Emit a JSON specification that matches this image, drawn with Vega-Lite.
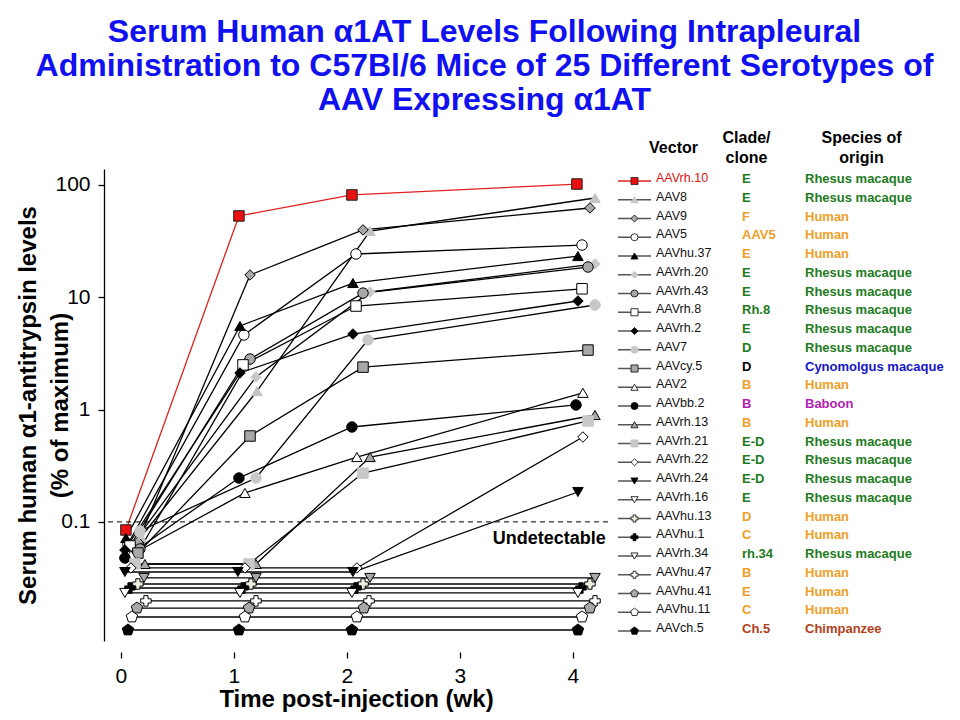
{
  "$schema": "https://vega.github.io/schema/vega-lite/v6.json",
  "config": {
    "font": "Liberation Sans",
    "view": {"stroke": null},
    "axis": {"labelColor": "black", "titleColor": "black", "tickColor": "black", "domainColor": "black", "grid": false}
  },
  "padding": {"left": 15, "top": 16, "right": 5, "bottom": 5},
  "title": {
    "text": ["Serum Human α1AT Levels Following Intrapleural", "Administration to C57Bl/6 Mice of 25 Different Serotypes of", "AAV Expressing α1AT"],
    "fontSize": 32, "fontWeight": "bold", "color": "#1010f0", "lineHeight": 34, "anchor": "middle", "offset": 12
  },
  "datasets": {
    "series": [
      {"vector": "AAVrh.10", "wk": 0.044, "val": 0.0847}, {"vector": "AAVrh.10", "wk": 1.044, "val": 53.0}, {"vector": "AAVrh.10", "wk": 2.044, "val": 81.5}, {"vector": "AAVrh.10", "wk": 4.035, "val": 102},
      {"vector": "AAV8", "wk": 0.177, "val": 0.0734}, {"vector": "AAV8", "wk": 1.204, "val": 1.46}, {"vector": "AAV8", "wk": 2.204, "val": 38.9}, {"vector": "AAV8", "wk": 4.195, "val": 76.6},
      {"vector": "AAV9", "wk": 0.150, "val": 0.0662}, {"vector": "AAV9", "wk": 1.142, "val": 15.8}, {"vector": "AAV9", "wk": 2.142, "val": 39.8}, {"vector": "AAV9", "wk": 4.150, "val": 62.4},
      {"vector": "AAV5", "wk": 0.062, "val": 0.0635}, {"vector": "AAV5", "wk": 1.088, "val": 4.62}, {"vector": "AAV5", "wk": 2.080, "val": 24.3}, {"vector": "AAV5", "wk": 4.080, "val": 29.2},
      {"vector": "AAVhu.37", "wk": 0.044, "val": 0.0719}, {"vector": "AAVhu.37", "wk": 1.053, "val": 5.55}, {"vector": "AAVhu.37", "wk": 2.053, "val": 13.4}, {"vector": "AAVhu.37", "wk": 4.044, "val": 23.3},
      {"vector": "AAVrh.20", "wk": 0.168, "val": 0.078}, {"vector": "AAVrh.20", "wk": 1.195, "val": 1.95}, {"vector": "AAVrh.20", "wk": 2.204, "val": 11.15}, {"vector": "AAVrh.20", "wk": 4.195, "val": 19.8},
      {"vector": "AAVrh.43", "wk": 0.168, "val": 0.0574}, {"vector": "AAVrh.43", "wk": 1.142, "val": 2.82}, {"vector": "AAVrh.43", "wk": 2.142, "val": 10.9}, {"vector": "AAVrh.43", "wk": 4.133, "val": 18.6},
      {"vector": "AAVrh.8", "wk": 0.080, "val": 0.061}, {"vector": "AAVrh.8", "wk": 1.080, "val": 2.50}, {"vector": "AAVrh.8", "wk": 2.080, "val": 8.36}, {"vector": "AAVrh.8", "wk": 4.080, "val": 11.9},
      {"vector": "AAVrh.2", "wk": 0.035, "val": 0.0562}, {"vector": "AAVrh.2", "wk": 1.053, "val": 2.12}, {"vector": "AAVrh.2", "wk": 2.053, "val": 4.71}, {"vector": "AAVrh.2", "wk": 4.044, "val": 9.27},
      {"vector": "AAV7", "wk": 0.168, "val": 0.083}, {"vector": "AAV7", "wk": 1.195, "val": 0.246}, {"vector": "AAV7", "wk": 2.186, "val": 4.17}, {"vector": "AAV7", "wk": 4.195, "val": 8.54},
      {"vector": "AAVcy.5", "wk": 0.150, "val": 0.0528}, {"vector": "AAVcy.5", "wk": 1.142, "val": 0.582}, {"vector": "AAVcy.5", "wk": 2.142, "val": 2.39}, {"vector": "AAVcy.5", "wk": 4.133, "val": 3.39},
      {"vector": "AAV2", "wk": 0.088, "val": 0.0507}, {"vector": "AAV2", "wk": 1.097, "val": 0.181}, {"vector": "AAV2", "wk": 2.088, "val": 0.378}, {"vector": "AAV2", "wk": 4.088, "val": 1.41},
      {"vector": "AAVbb.2", "wk": 0.035, "val": 0.0477}, {"vector": "AAVbb.2", "wk": 1.044, "val": 0.246}, {"vector": "AAVbb.2", "wk": 2.044, "val": 0.700}, {"vector": "AAVbb.2", "wk": 4.027, "val": 1.10},
      {"vector": "AAVrh.13", "wk": 0.212, "val": 0.0422}, {"vector": "AAVrh.13", "wk": 1.195, "val": 0.0422}, {"vector": "AAVrh.13", "wk": 2.204, "val": 0.378}, {"vector": "AAVrh.13", "wk": 4.195, "val": 0.895},
      {"vector": "AAVrh.21", "wk": 0.124, "val": 0.0422}, {"vector": "AAVrh.21", "wk": 1.133, "val": 0.0422}, {"vector": "AAVrh.21", "wk": 2.142, "val": 0.272}, {"vector": "AAVrh.21", "wk": 4.133, "val": 0.792},
      {"vector": "AAVrh.22", "wk": 0.088, "val": 0.0389}, {"vector": "AAVrh.22", "wk": 1.097, "val": 0.0389}, {"vector": "AAVrh.22", "wk": 2.088, "val": 0.0389}, {"vector": "AAVrh.22", "wk": 4.088, "val": 0.570},
      {"vector": "AAVrh.24", "wk": 0.035, "val": 0.0358}, {"vector": "AAVrh.24", "wk": 1.035, "val": 0.0358}, {"vector": "AAVrh.24", "wk": 2.053, "val": 0.0358}, {"vector": "AAVrh.24", "wk": 4.044, "val": 0.1846},
      {"vector": "AAVrh.16", "wk": 0.204, "val": 0.0317}, {"vector": "AAVrh.16", "wk": 1.195, "val": 0.0317}, {"vector": "AAVrh.16", "wk": 2.204, "val": 0.0317}, {"vector": "AAVrh.16", "wk": 4.195, "val": 0.0317},
      {"vector": "AAVhu.13", "wk": 0.150, "val": 0.028}, {"vector": "AAVhu.13", "wk": 1.150, "val": 0.028}, {"vector": "AAVhu.13", "wk": 2.142, "val": 0.028}, {"vector": "AAVhu.13", "wk": 4.150, "val": 0.028},
      {"vector": "AAVhu.1", "wk": 0.080, "val": 0.0258}, {"vector": "AAVhu.1", "wk": 1.080, "val": 0.0258}, {"vector": "AAVhu.1", "wk": 2.080, "val": 0.0258}, {"vector": "AAVhu.1", "wk": 4.071, "val": 0.0258},
      {"vector": "AAVrh.34", "wk": 0.035, "val": 0.0233}, {"vector": "AAVrh.34", "wk": 1.053, "val": 0.0233}, {"vector": "AAVrh.34", "wk": 2.044, "val": 0.0233}, {"vector": "AAVrh.34", "wk": 4.044, "val": 0.0233},
      {"vector": "AAVhu.47", "wk": 0.221, "val": 0.0198}, {"vector": "AAVhu.47", "wk": 1.195, "val": 0.0198}, {"vector": "AAVhu.47", "wk": 2.195, "val": 0.0198}, {"vector": "AAVhu.47", "wk": 4.195, "val": 0.0198},
      {"vector": "AAVhu.41", "wk": 0.142, "val": 0.0171}, {"vector": "AAVhu.41", "wk": 1.133, "val": 0.0171}, {"vector": "AAVhu.41", "wk": 2.150, "val": 0.0171}, {"vector": "AAVhu.41", "wk": 4.150, "val": 0.0171},
      {"vector": "AAVhu.11", "wk": 0.097, "val": 0.01423}, {"vector": "AAVhu.11", "wk": 1.097, "val": 0.01423}, {"vector": "AAVhu.11", "wk": 2.088, "val": 0.01423}, {"vector": "AAVhu.11", "wk": 4.080, "val": 0.01423},
      {"vector": "AAVch.5", "wk": 0.062, "val": 0.0109}, {"vector": "AAVch.5", "wk": 1.044, "val": 0.0109}, {"vector": "AAVch.5", "wk": 2.044, "val": 0.0109}, {"vector": "AAVch.5", "wk": 4.044, "val": 0.0109}
    ],
    "info": [
      {"vector": "AAVrh.10", "clade": "E", "origin": "Rhesus macaque"},
      {"vector": "AAV8", "clade": "E", "origin": "Rhesus macaque"},
      {"vector": "AAV9", "clade": "F", "origin": "Human"},
      {"vector": "AAV5", "clade": "AAV5", "origin": "Human"},
      {"vector": "AAVhu.37", "clade": "E", "origin": "Human"},
      {"vector": "AAVrh.20", "clade": "E", "origin": "Rhesus macaque"},
      {"vector": "AAVrh.43", "clade": "E", "origin": "Rhesus macaque"},
      {"vector": "AAVrh.8", "clade": "Rh.8", "origin": "Rhesus macaque"},
      {"vector": "AAVrh.2", "clade": "E", "origin": "Rhesus macaque"},
      {"vector": "AAV7", "clade": "D", "origin": "Rhesus macaque"},
      {"vector": "AAVcy.5", "clade": "D", "origin": "Cynomolgus macaque"},
      {"vector": "AAV2", "clade": "B", "origin": "Human"},
      {"vector": "AAVbb.2", "clade": "B", "origin": "Baboon"},
      {"vector": "AAVrh.13", "clade": "B", "origin": "Human"},
      {"vector": "AAVrh.21", "clade": "E-D", "origin": "Rhesus macaque"},
      {"vector": "AAVrh.22", "clade": "E-D", "origin": "Rhesus macaque"},
      {"vector": "AAVrh.24", "clade": "E-D", "origin": "Rhesus macaque"},
      {"vector": "AAVrh.16", "clade": "E", "origin": "Rhesus macaque"},
      {"vector": "AAVhu.13", "clade": "D", "origin": "Human"},
      {"vector": "AAVhu.1", "clade": "C", "origin": "Human"},
      {"vector": "AAVrh.34", "clade": "rh.34", "origin": "Rhesus macaque"},
      {"vector": "AAVhu.47", "clade": "B", "origin": "Human"},
      {"vector": "AAVhu.41", "clade": "E", "origin": "Human"},
      {"vector": "AAVhu.11", "clade": "C", "origin": "Human"},
      {"vector": "AAVch.5", "clade": "Ch.5", "origin": "Chimpanzee"}
    ],
    "threshold": [{"label": "Undetectable", "level": 0.1}]
  },
  "spacing": 5,
  "bounds": "flush",
  "resolve": {"scale": {"shape": "independent", "fill": "independent", "stroke": "independent", "color": "independent"}},
  "hconcat": [
    {
      "width": 504,
      "height": 472,
      "data": {"name": "series"},
      "encoding": {
        "y": {
          "field": "val", "type": "quantitative",
          "scale": {"type": "log", "domain": [0.0087, 138.8], "nice": false},
          "axis": {
            "values": [0.1, 1, 10, 100], "format": "~g", "labelFontSize": 21, "labelPadding": 8,
            "tickSize": 6, "tickWidth": 1.3, "domainWidth": 1.3,
            "title": ["Serum human α1-antitrypsin levels", "(% of maximum)"],
            "titleFontSize": 24, "titleFontWeight": "bold", "titleX": -64, "titleLineHeight": 32, "titleBaseline": "bottom"
          }
        }
      },
      "layer": [
        {
          "data": {"values": [{}]},
          "mark": {"type": "rule", "color": "black", "strokeWidth": 1.3},
          "encoding": {"y": {"datum": 0.0087}}
        },
        {
          "mark": {"type": "line", "strokeWidth": 1.3},
          "encoding": {
            "x": {
              "field": "wk", "type": "quantitative",
              "scale": {"domain": [-0.15, 4.31], "nice": false, "zero": false},
              "axis": {
                "orient": "bottom", "offset": 11, "domain": false, "values": [0, 1, 2, 3, 4], "format": "d",
                "tickSize": 6, "tickWidth": 1.3, "labelFontSize": 21, "labelPadding": 7,
                "title": "Time post-injection (wk)", "titleFontSize": 24, "titleFontWeight": "bold", "titlePadding": 1
              }
            },
            "detail": {"field": "vector"},
            "color": {
              "field": "vector", "type": "nominal", "legend": null,
              "scale": {
                "domain": ["AAVrh.10","AAV8","AAV9","AAV5","AAVhu.37","AAVrh.20","AAVrh.43","AAVrh.8","AAVrh.2","AAV7","AAVcy.5","AAV2","AAVbb.2","AAVrh.13","AAVrh.21","AAVrh.22","AAVrh.24","AAVrh.16","AAVhu.13","AAVhu.1","AAVrh.34","AAVhu.47","AAVhu.41","AAVhu.11","AAVch.5"],
                "range": ["#e02020","#000000","#000000","#000000","#000000","#000000","#000000","#000000","#000000","#000000","#000000","#000000","#000000","#000000","#000000","#000000","#000000","#000000","#000000","#000000","#000000","#000000","#000000","#000000","#000000"]
              }
            }
          }
        },
        {
          "mark": {"type": "point", "filled": true, "opacity": 1, "strokeWidth": 1, "size": 110},
          "encoding": {
            "x": {"field": "wk", "type": "quantitative"},
            "shape": {
              "field": "vector", "type": "nominal", "legend": null,
              "scale": {
                "domain": ["AAVrh.10","AAV8","AAV9","AAV5","AAVhu.37","AAVrh.20","AAVrh.43","AAVrh.8","AAVrh.2","AAV7","AAVcy.5","AAV2","AAVbb.2","AAVrh.13","AAVrh.21","AAVrh.22","AAVrh.24","AAVrh.16","AAVhu.13","AAVhu.1","AAVrh.34","AAVhu.47","AAVhu.41","AAVhu.11","AAVch.5"],
                "range": ["square","triangle-up","diamond","circle","triangle-up","diamond","circle","square","diamond","circle","square","triangle-up","circle","triangle-up","square","diamond","triangle-down","triangle-down","cross","cross","triangle-down","cross","M0,-1.15L1.094,-0.355L0.676,0.93L-0.676,0.93L-1.094,-0.355Z","M0,-1.15L1.094,-0.355L0.676,0.93L-0.676,0.93L-1.094,-0.355Z","M0,-1.15L1.094,-0.355L0.676,0.93L-0.676,0.93L-1.094,-0.355Z"]
              }
            },
            "fill": {
              "field": "vector", "type": "nominal", "legend": null,
              "scale": {
                "domain": ["AAVrh.10","AAV8","AAV9","AAV5","AAVhu.37","AAVrh.20","AAVrh.43","AAVrh.8","AAVrh.2","AAV7","AAVcy.5","AAV2","AAVbb.2","AAVrh.13","AAVrh.21","AAVrh.22","AAVrh.24","AAVrh.16","AAVhu.13","AAVhu.1","AAVrh.34","AAVhu.47","AAVhu.41","AAVhu.11","AAVch.5"],
                "range": ["#e81010","#c4c4c4","#a8a8a8","#ffffff","#000000","#c8c8c8","#a8a8a8","#ffffff","#000000","#c8c8c8","#a8a8a8","#ffffff","#000000","#a8a8a8","#c8c8c8","#ffffff","#000000","#a8a8a8","#eeeede","#000000","#ffffff","#ffffff","#a8a8a8","#ffffff","#000000"]
              }
            },
            "stroke": {
              "field": "vector", "type": "nominal", "legend": null,
              "scale": {
                "domain": ["AAVrh.10","AAV8","AAV9","AAV5","AAVhu.37","AAVrh.20","AAVrh.43","AAVrh.8","AAVrh.2","AAV7","AAVcy.5","AAV2","AAVbb.2","AAVrh.13","AAVrh.21","AAVrh.22","AAVrh.24","AAVrh.16","AAVhu.13","AAVhu.1","AAVrh.34","AAVhu.47","AAVhu.41","AAVhu.11","AAVch.5"],
                "range": ["#202020","#c4c4c4","#000000","#000000","#000000","#c8c8c8","#000000","#000000","#000000","#c8c8c8","#000000","#000000","#000000","#000000","#c8c8c8","#000000","#000000","#000000","#000000","#000000","#000000","#000000","#000000","#000000","#000000"]
              }
            }
          }
        },
        {
          "data": {"name": "threshold"},
          "mark": {"type": "rule", "strokeDash": [5, 4], "color": "black", "strokeWidth": 1},
          "encoding": {"y": {"field": "level", "type": "quantitative"}}
        },
        {
          "data": {"name": "threshold"},
          "mark": {"type": "text", "align": "right", "baseline": "middle", "dy": 17, "fontSize": 18, "fontWeight": "bold", "color": "black"},
          "encoding": {
            "x": {"datum": 4.29},
            "y": {"field": "level", "type": "quantitative"},
            "text": {"field": "label"}
          }
        }
      ]
    },
    {
      "width": 340,
      "height": 472,
      "data": {"name": "info"},
      "encoding": {
        "y": {
          "field": "vector", "type": "nominal", "axis": null,
          "scale": {
            "type": "point", "padding": 0, "range": [12, 462],
            "domain": ["AAVrh.10","AAV8","AAV9","AAV5","AAVhu.37","AAVrh.20","AAVrh.43","AAVrh.8","AAVrh.2","AAV7","AAVcy.5","AAV2","AAVbb.2","AAVrh.13","AAVrh.21","AAVrh.22","AAVrh.24","AAVrh.16","AAVhu.13","AAVhu.1","AAVrh.34","AAVhu.47","AAVhu.41","AAVhu.11","AAVch.5"]
          }
        }
      },
      "layer": [
        {
          "mark": {"type": "point", "shape": "stroke", "size": 1089, "strokeWidth": 1.5, "filled": false, "opacity": 1},
          "encoding": {
            "x": {
              "datum": 21.5, "type": "quantitative",
              "scale": {"domain": [0, 340], "nice": false, "zero": false},
              "axis": {
                "orient": "top", "values": [60],
                "labelExpr": "'Vector'",
                "domain": false, "ticks": false, "tickSize": 0, "labelFontSize": 16, "labelFontWeight": "bold",
                "labelPadding": 22, "labelBaseline": "middle", "labelAlign": "center", "labelAngle": 0,
                "labelFlush": false, "labelOverlap": false, "labelBound": false, "title": null
              }
            },
            "stroke": {"condition": {"test": "datum.vector === 'AAVrh.10'", "value": "#e02020"}, "value": "#555555"}
          }
        },
        {
          "mark": {"type": "point", "filled": true, "opacity": 1, "strokeWidth": 0.8, "size": 50},
          "encoding": {
            "x": {
              "datum": 21.5, "type": "quantitative",
              "axis": {
                "orient": "top", "values": [133, 248],
                "labelExpr": "datum.value == 133 ? ['Clade/', 'clone'] : ['Species of', 'origin']",
                "domain": false, "ticks": false, "tickSize": 0, "labelFontSize": 16, "labelFontWeight": "bold",
                "labelPadding": 32, "labelBaseline": "middle", "labelLineHeight": 20, "labelAlign": "center", "labelAngle": 0,
                "labelFlush": false, "labelOverlap": false, "labelBound": false, "title": null
              }
            },
            "shape": {
              "field": "vector", "type": "nominal", "legend": null,
              "scale": {
                "domain": ["AAVrh.10","AAV8","AAV9","AAV5","AAVhu.37","AAVrh.20","AAVrh.43","AAVrh.8","AAVrh.2","AAV7","AAVcy.5","AAV2","AAVbb.2","AAVrh.13","AAVrh.21","AAVrh.22","AAVrh.24","AAVrh.16","AAVhu.13","AAVhu.1","AAVrh.34","AAVhu.47","AAVhu.41","AAVhu.11","AAVch.5"],
                "range": ["square","triangle-up","diamond","circle","triangle-up","diamond","circle","square","diamond","circle","square","triangle-up","circle","triangle-up","square","diamond","triangle-down","triangle-down","cross","cross","triangle-down","cross","M0,-1.15L1.094,-0.355L0.676,0.93L-0.676,0.93L-1.094,-0.355Z","M0,-1.15L1.094,-0.355L0.676,0.93L-0.676,0.93L-1.094,-0.355Z","M0,-1.15L1.094,-0.355L0.676,0.93L-0.676,0.93L-1.094,-0.355Z"]
              }
            },
            "fill": {
              "field": "vector", "type": "nominal", "legend": null,
              "scale": {
                "domain": ["AAVrh.10","AAV8","AAV9","AAV5","AAVhu.37","AAVrh.20","AAVrh.43","AAVrh.8","AAVrh.2","AAV7","AAVcy.5","AAV2","AAVbb.2","AAVrh.13","AAVrh.21","AAVrh.22","AAVrh.24","AAVrh.16","AAVhu.13","AAVhu.1","AAVrh.34","AAVhu.47","AAVhu.41","AAVhu.11","AAVch.5"],
                "range": ["#e81010","#c4c4c4","#a8a8a8","#ffffff","#000000","#c8c8c8","#a8a8a8","#ffffff","#000000","#c8c8c8","#a8a8a8","#ffffff","#000000","#a8a8a8","#c8c8c8","#ffffff","#000000","#ffffff","#eeeede","#000000","#ffffff","#ffffff","#a8a8a8","#ffffff","#000000"]
              }
            },
            "stroke": {
              "field": "vector", "type": "nominal", "legend": null,
              "scale": {
                "domain": ["AAVrh.10","AAV8","AAV9","AAV5","AAVhu.37","AAVrh.20","AAVrh.43","AAVrh.8","AAVrh.2","AAV7","AAVcy.5","AAV2","AAVbb.2","AAVrh.13","AAVrh.21","AAVrh.22","AAVrh.24","AAVrh.16","AAVhu.13","AAVhu.1","AAVrh.34","AAVhu.47","AAVhu.41","AAVhu.11","AAVch.5"],
                "range": ["#202020","#c4c4c4","#000000","#000000","#000000","#c8c8c8","#000000","#000000","#000000","#c8c8c8","#000000","#000000","#000000","#000000","#c8c8c8","#000000","#000000","#000000","#000000","#000000","#000000","#000000","#000000","#000000","#000000"]
              }
            }
          }
        },
        {
          "mark": {"type": "text", "align": "left", "baseline": "middle", "dy": -3, "fontSize": 12.5},
          "encoding": {
            "x": {"datum": 43, "type": "quantitative", "axis": null},
            "text": {"field": "vector"},
            "color": {"condition": {"test": "datum.vector === 'AAVrh.10'", "value": "#e01010"}, "value": "#111111"},
            "fontWeight": {"condition": {"test": "datum.vector === 'AAVrh.10'", "value": "bold"}, "value": "normal"},
            "fontSize": {"condition": {"test": "datum.vector === 'AAVrh.10'", "value": 11.5}, "value": 12.5}
          }
        },
        {
          "mark": {"type": "text", "align": "left", "baseline": "middle", "dy": -2, "fontSize": 13, "fontWeight": "bold"},
          "encoding": {
            "x": {"datum": 129, "type": "quantitative", "axis": null},
            "text": {"field": "clade"},
            "color": {
              "condition": {"test": "datum.vector === 'AAVcy.5'", "value": "#000000"},
              "field": "origin", "type": "nominal", "legend": null,
              "scale": {"domain": ["Rhesus macaque", "Human", "Cynomolgus macaque", "Baboon", "Chimpanzee"], "range": ["#1e7b1e", "#f0a028", "#1515c8", "#b422b4", "#b4401a"]}
            }
          }
        },
        {
          "mark": {"type": "text", "align": "left", "baseline": "middle", "dy": -2, "fontSize": 13, "fontWeight": "bold"},
          "encoding": {
            "x": {"datum": 192, "type": "quantitative", "axis": null},
            "text": {"field": "origin"},
            "color": {
              "field": "origin", "type": "nominal", "legend": null,
              "scale": {"domain": ["Rhesus macaque", "Human", "Cynomolgus macaque", "Baboon", "Chimpanzee"], "range": ["#1e7b1e", "#f0a028", "#1515c8", "#b422b4", "#b4401a"]}
            }
          }
        }
      ],
      "resolve": {"axis": {"x": "independent"}}
    }
  ]
}
